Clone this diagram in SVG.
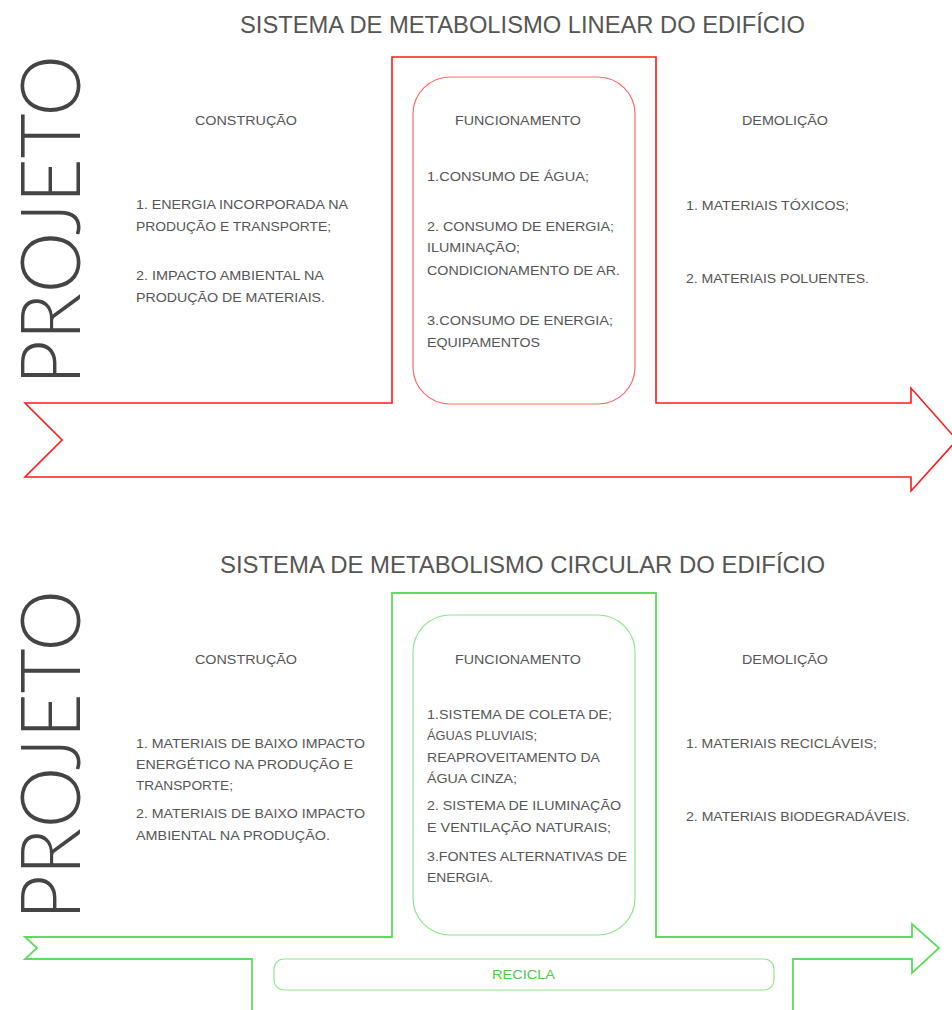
<svg xmlns="http://www.w3.org/2000/svg" width="952" height="1010" viewBox="0 0 952 1010">
<style>
.bg{fill:#ffffff}
.title{font-family:"Liberation Sans",Arial,sans-serif;font-size:24px;fill:#555555}
.big{font-family:"Lato","Liberation Sans",sans-serif;font-weight:300;font-size:82px;fill:#444444}
.hd{font-family:"Liberation Sans",Arial,sans-serif;font-size:13.5px;fill:#555555}
.tx{font-family:"Liberation Sans",Arial,sans-serif;font-size:13.5px;fill:#555555}
.red{fill:none;stroke:#ff1a1a;stroke-width:1.6;stroke-linejoin:miter}
.redin{fill:none;stroke:#ff6b6b;stroke-width:1.2}
.grn{fill:none;stroke:#5fdc5f;stroke-width:1.8;stroke-linejoin:miter}
.grnin{fill:none;stroke:#8fe68f;stroke-width:1.2}
.rec{font-family:"Liberation Sans",Arial,sans-serif;font-size:13px;fill:#4ccc4c}
</style>
<rect class="bg" x="0" y="0" width="952" height="1010"/>

<g id="linear">
  <text class="title" x="240" y="33" textLength="565" lengthAdjust="spacingAndGlyphs">SISTEMA DE METABOLISMO LINEAR DO EDIFÍCIO</text>
  <g id="projeto-linear">
    <text class="big" transform="translate(80,385) rotate(-90)" textLength="330" lengthAdjust="spacingAndGlyphs">PROJETO</text>
  </g>
  <g id="arrow-linear">
    <path class="red" d="M25 403 H392 V57 H656 V403 H911 V388 L957 440 L911 491 V477 H25 L62 440 Z"/>
  </g>
  <g id="construcao-linear">
    <text class="hd" x="195" y="125" textLength="102" lengthAdjust="spacingAndGlyphs">CONSTRUÇÃO</text>
    <text class="tx" x="136" y="209" textLength="212" lengthAdjust="spacingAndGlyphs">1. ENERGIA INCORPORADA NA</text>
    <text class="tx" x="136" y="231" textLength="195" lengthAdjust="spacingAndGlyphs">PRODUÇÃO E TRANSPORTE;</text>
    <text class="tx" x="136" y="280" textLength="188" lengthAdjust="spacingAndGlyphs">2. IMPACTO AMBIENTAL NA</text>
    <text class="tx" x="136" y="302" textLength="189" lengthAdjust="spacingAndGlyphs">PRODUÇÃO DE MATERIAIS.</text>
  </g>
  <g id="funcionamento-linear">
    <rect class="redin" x="413" y="77" width="222" height="327" rx="37" ry="37"/>
    <text class="hd" x="455" y="125" textLength="126" lengthAdjust="spacingAndGlyphs">FUNCIONAMENTO</text>
    <text class="tx" x="427" y="181" textLength="162" lengthAdjust="spacingAndGlyphs">1.CONSUMO DE ÁGUA;</text>
    <text class="tx" x="427" y="231" textLength="187" lengthAdjust="spacingAndGlyphs">2. CONSUMO DE ENERGIA;</text>
    <text class="tx" x="427" y="252" textLength="93" lengthAdjust="spacingAndGlyphs">ILUMINAÇÃO;</text>
    <text class="tx" x="427" y="275" textLength="193" lengthAdjust="spacingAndGlyphs">CONDICIONAMENTO DE AR.</text>
    <text class="tx" x="427" y="325" textLength="186" lengthAdjust="spacingAndGlyphs">3.CONSUMO DE ENERGIA;</text>
    <text class="tx" x="427" y="347" textLength="113" lengthAdjust="spacingAndGlyphs">EQUIPAMENTOS</text>
  </g>
  <g id="demolicao-linear">
    <text class="hd" x="742" y="125" textLength="86" lengthAdjust="spacingAndGlyphs">DEMOLIÇÃO</text>
    <text class="tx" x="686" y="210" textLength="163" lengthAdjust="spacingAndGlyphs">1. MATERIAIS TÓXICOS;</text>
    <text class="tx" x="686" y="283" textLength="183" lengthAdjust="spacingAndGlyphs">2. MATERIAIS POLUENTES.</text>
  </g>
</g>

<g id="circular">
  <text class="title" x="220" y="573" textLength="605" lengthAdjust="spacingAndGlyphs">SISTEMA DE METABOLISMO CIRCULAR DO EDIFÍCIO</text>
  <g id="projeto-circular">
    <text class="big" transform="translate(80,920) rotate(-90)" textLength="330" lengthAdjust="spacingAndGlyphs">PROJETO</text>
  </g>
  <g id="arrow-circular">
    <path class="grn" d="M252 1012 V959 H25 L37 948 L25 937 H392 V593 H656 V937 H912 V924 L939 948 L912 973 V959 H793 V1012"/>
  </g>
  <g id="construcao-circular">
    <text class="hd" x="195" y="664" textLength="102" lengthAdjust="spacingAndGlyphs">CONSTRUÇÃO</text>
    <text class="tx" x="136" y="748" textLength="229" lengthAdjust="spacingAndGlyphs">1. MATERIAIS DE BAIXO IMPACTO</text>
    <text class="tx" x="136" y="769" textLength="217" lengthAdjust="spacingAndGlyphs">ENERGÉTICO NA PRODUÇÃO E</text>
    <text class="tx" x="136" y="790" textLength="97" lengthAdjust="spacingAndGlyphs">TRANSPORTE;</text>
    <text class="tx" x="136" y="818" textLength="229" lengthAdjust="spacingAndGlyphs">2. MATERIAIS DE BAIXO IMPACTO</text>
    <text class="tx" x="136" y="840" textLength="194" lengthAdjust="spacingAndGlyphs">AMBIENTAL NA PRODUÇÃO.</text>
  </g>
  <g id="funcionamento-circular">
    <rect class="grnin" x="413" y="615" width="222" height="320" rx="37" ry="37"/>
    <text class="hd" x="455" y="664" textLength="126" lengthAdjust="spacingAndGlyphs">FUNCIONAMENTO</text>
    <text class="tx" x="427" y="719" textLength="185" lengthAdjust="spacingAndGlyphs">1.SISTEMA DE COLETA DE;</text>
    <text class="tx" x="427" y="740" textLength="110" lengthAdjust="spacingAndGlyphs">ÁGUAS PLUVIAIS;</text>
    <text class="tx" x="427" y="762" textLength="173" lengthAdjust="spacingAndGlyphs">REAPROVEITAMENTO DA</text>
    <text class="tx" x="427" y="783" textLength="90" lengthAdjust="spacingAndGlyphs">ÁGUA CINZA;</text>
    <text class="tx" x="427" y="810" textLength="194" lengthAdjust="spacingAndGlyphs">2. SISTEMA DE ILUMINAÇÃO</text>
    <text class="tx" x="427" y="832" textLength="184" lengthAdjust="spacingAndGlyphs">E VENTILAÇÃO NATURAIS;</text>
    <text class="tx" x="427" y="861" textLength="200" lengthAdjust="spacingAndGlyphs">3.FONTES ALTERNATIVAS DE</text>
    <text class="tx" x="427" y="882" textLength="66" lengthAdjust="spacingAndGlyphs">ENERGIA.</text>
  </g>
  <g id="demolicao-circular">
    <text class="hd" x="742" y="664" textLength="86" lengthAdjust="spacingAndGlyphs">DEMOLIÇÃO</text>
    <text class="tx" x="686" y="748" textLength="191" lengthAdjust="spacingAndGlyphs">1. MATERIAIS RECICLÁVEIS;</text>
    <text class="tx" x="686" y="821" textLength="224" lengthAdjust="spacingAndGlyphs">2. MATERIAIS BIODEGRADÁVEIS.</text>
  </g>
  <g id="recicla">
    <rect class="grnin" x="274" y="959" width="500" height="31" rx="10" ry="10"/>
    <text class="rec" x="492" y="979" textLength="63" lengthAdjust="spacingAndGlyphs">RECICLA</text>
  </g>
</g>

<g id="connectors"></g>
</svg>
